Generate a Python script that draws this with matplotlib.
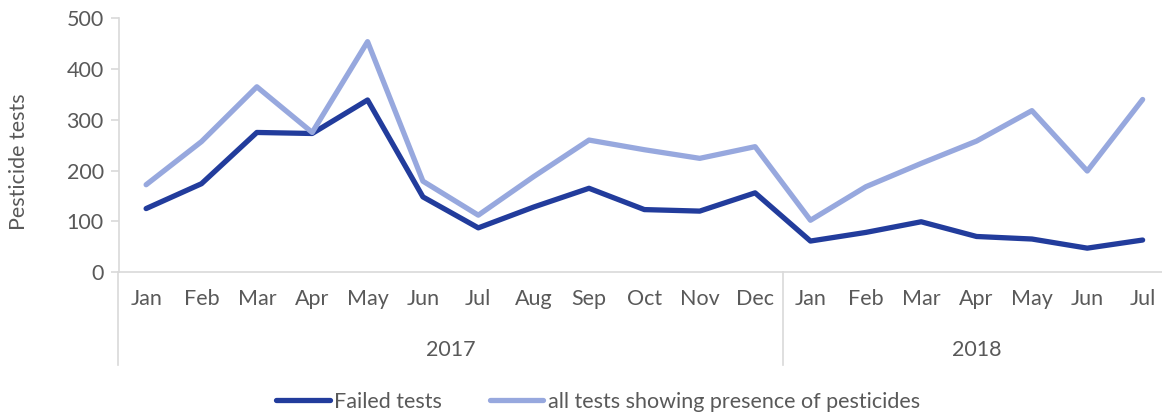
import matplotlib
matplotlib.use("Agg")
import matplotlib.pyplot as plt
from matplotlib.lines import Line2D

months = ["Jan", "Feb", "Mar", "Apr", "May", "Jun", "Jul", "Aug", "Sep", "Oct", "Nov", "Dec",
          "Jan", "Feb", "Mar", "Apr", "May", "Jun", "Jul"]
years = ["2017", "2018"]
year_counts = [12, 7]
failed = [125, 174, 275, 273, 339, 148, 87, 128, 165, 123, 120, 156, 61, 78, 99, 70, 65, 47, 63]
all_tests = [172, 257, 365, 275, 454, 179, 112, 188, 260, 241, 224, 247, 102, 168, 214, 258, 318, 199, 340]

W, H = 1162, 415
fig = plt.figure(figsize=(W / 100, H / 100), dpi=100)
plt.rcParams['font.family'] = ['Lato', 'DejaVu Sans']
gray = "#595959"
axcol = "#D9D9D9"
fs = 15.5

left, right, top, bottom = 119, 1162, 18.3, 272
ax = fig.add_axes([left / W, 1 - bottom / H, (right - left) / W, (bottom - top) / H])
x = list(range(len(months)))
dark = "#223C9C"
light = "#97A8DE"
ax.plot(x, failed, color=dark, lw=3.8, solid_joinstyle="round", solid_capstyle="round", label="Failed tests")
ax.plot(x, all_tests, color=light, lw=3.8, solid_joinstyle="round", solid_capstyle="round",
        label="all tests showing presence of pesticides")
ax.set_xlim(-0.49, 18.35)
ax.set_ylim(0, 500)
ax.set_yticks([0, 100, 200, 300, 400, 500])
ax.tick_params(axis="y", colors=axcol, labelcolor=gray, labelsize=fs, length=6, width=1.2, pad=5)
ax.set_xticks(x)
ax.set_xticklabels(months)
ax.tick_params(axis="x", length=0, labelcolor=gray, labelsize=fs, pad=12)
for s in ["top", "right"]:
    ax.spines[s].set_visible(False)
ax.spines["left"].set_color(axcol)
ax.spines["bottom"].set_color(axcol)
ax.spines["left"].set_linewidth(1.2)
ax.spines["bottom"].set_linewidth(1.2)
ax.set_ylabel("Pesticide tests", color=gray, fontsize=fs, labelpad=27)
ax.yaxis.label.set_y((bottom - 162) / (bottom - top))

# multi-level category axis
depth = (365 - bottom) / (bottom - top)
start = -0.5
bounds = [start]
for c in year_counts:
    bounds.append(bounds[-1] + c)
for b in bounds[:-1]:
    ax.add_line(Line2D([b, b], [0, -depth], transform=ax.get_xaxis_transform(),
                       color=axcol, lw=1.2, clip_on=False))
year_y = -(350 - bottom) / (bottom - top)
for i, yr in enumerate(years):
    ax.text((bounds[i] + bounds[i + 1]) / 2, year_y, yr, transform=ax.get_xaxis_transform(),
            ha="center", va="center", color=gray, fontsize=fs)

fig.legend(loc="center", bbox_to_anchor=(598 / W, 1 - 401.7 / H), ncol=2, frameon=False,
           fontsize=fs, labelcolor=gray, handlelength=2.5, handletextpad=0.2,
           columnspacing=2.2)

fig.savefig("out.png", dpi=100)
